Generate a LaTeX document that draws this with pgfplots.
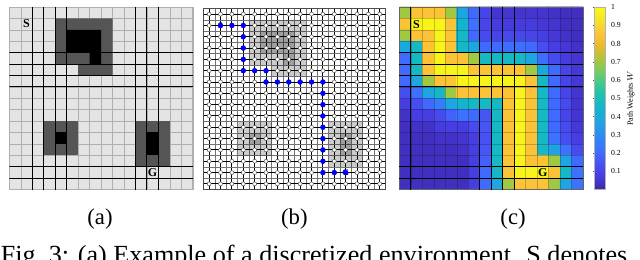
\documentclass[border=0pt]{standalone}
\usepackage{pgfplots}
\usepackage{pgfplotstable}
\pgfplotsset{compat=1.18}
\usepackage{fontspec}
\setmainfont{Liberation Serif}

\definecolor{bgA}{RGB}{228,228,228}
\definecolor{obsA}{RGB}{85,85,85}
\definecolor{gridA}{RGB}{175,175,175}
\definecolor{pathblue}{RGB}{0,0,250}
\definecolor{navy}{RGB}{10,10,90}

% path weights W (column c, row r from top, value v)
\pgfplotstableread[row sep=\\]{c r v\\
0 0 0.70\\ 1 0 0.85\\ 2 0 0.85\\ 3 0 0.85\\ 4 0 0.70\\ 5 0 0.38\\ 6 0 0.20\\ 7 0 0.10\\ 8 0 0.05\\ 9 0 0.05\\ 10 0 0.05\\ 11 0 0.05\\ 12 0 0.05\\ 13 0 0.04\\ 14 0 0.03\\ 15 0 0.03\\
0 1 0.85\\ 1 1 0.98\\ 2 1 0.98\\ 3 1 0.98\\ 4 1 0.85\\ 5 1 0.45\\ 6 1 0.22\\ 7 1 0.10\\ 8 1 0.07\\ 9 1 0.07\\ 10 1 0.07\\ 11 1 0.07\\ 12 1 0.06\\ 13 1 0.05\\ 14 1 0.03\\ 15 1 0.03\\
0 2 0.70\\ 1 2 0.85\\ 2 2 0.85\\ 3 2 0.98\\ 4 2 0.85\\ 5 2 0.47\\ 6 2 0.20\\ 7 2 0.12\\ 8 2 0.10\\ 9 2 0.11\\ 10 2 0.11\\ 11 2 0.10\\ 12 2 0.08\\ 13 2 0.06\\ 14 2 0.04\\ 15 2 0.03\\
0 3 0.40\\ 1 3 0.47\\ 2 3 0.85\\ 3 3 0.98\\ 4 3 0.85\\ 5 3 0.47\\ 6 3 0.38\\ 7 3 0.20\\ 8 3 0.20\\ 9 3 0.21\\ 10 3 0.21\\ 11 3 0.20\\ 12 3 0.13\\ 13 3 0.08\\ 14 3 0.06\\ 15 3 0.04\\
0 4 0.20\\ 1 4 0.47\\ 2 4 0.85\\ 3 4 0.98\\ 4 4 0.85\\ 5 4 0.85\\ 6 4 0.70\\ 7 4 0.47\\ 8 4 0.47\\ 9 4 0.47\\ 10 4 0.47\\ 11 4 0.38\\ 12 4 0.21\\ 13 4 0.12\\ 14 4 0.07\\ 15 4 0.05\\
0 5 0.20\\ 1 5 0.47\\ 2 5 0.85\\ 3 5 0.98\\ 4 5 0.98\\ 5 5 0.98\\ 6 5 0.85\\ 7 5 0.85\\ 8 5 0.85\\ 9 5 0.85\\ 10 5 0.85\\ 11 5 0.70\\ 12 5 0.40\\ 13 5 0.20\\ 14 5 0.10\\ 15 5 0.06\\
0 6 0.20\\ 1 6 0.38\\ 2 6 0.70\\ 3 6 0.85\\ 4 6 0.85\\ 5 6 0.98\\ 6 6 0.98\\ 7 6 0.98\\ 8 6 0.98\\ 9 6 0.98\\ 10 6 0.98\\ 11 6 0.85\\ 12 6 0.47\\ 13 6 0.20\\ 14 6 0.10\\ 15 6 0.06\\
0 7 0.13\\ 1 7 0.22\\ 2 7 0.38\\ 3 7 0.47\\ 4 7 0.70\\ 5 7 0.85\\ 6 7 0.85\\ 7 7 0.85\\ 8 7 0.85\\ 9 7 0.85\\ 10 7 0.98\\ 11 7 0.85\\ 12 7 0.47\\ 13 7 0.20\\ 14 7 0.10\\ 15 7 0.05\\
0 8 0.08\\ 1 8 0.13\\ 2 8 0.20\\ 3 8 0.26\\ 4 8 0.38\\ 5 8 0.45\\ 6 8 0.47\\ 7 8 0.47\\ 8 8 0.47\\ 9 8 0.85\\ 10 8 0.98\\ 11 8 0.85\\ 12 8 0.47\\ 13 8 0.20\\ 14 8 0.12\\ 15 8 0.05\\
0 9 0.04\\ 1 9 0.08\\ 2 9 0.08\\ 3 9 0.12\\ 4 9 0.18\\ 5 9 0.22\\ 6 9 0.20\\ 7 9 0.15\\ 8 9 0.47\\ 9 9 0.85\\ 10 9 0.98\\ 11 9 0.85\\ 12 9 0.47\\ 13 9 0.20\\ 14 9 0.10\\ 15 9 0.05\\
0 10 0.03\\ 1 10 0.04\\ 2 10 0.04\\ 3 10 0.07\\ 4 10 0.08\\ 5 10 0.08\\ 6 10 0.12\\ 7 10 0.15\\ 8 10 0.47\\ 9 10 0.85\\ 10 10 0.98\\ 11 10 0.85\\ 12 10 0.47\\ 13 10 0.20\\ 14 10 0.12\\ 15 10 0.06\\
0 11 0.03\\ 1 11 0.03\\ 2 11 0.03\\ 3 11 0.04\\ 4 11 0.04\\ 5 11 0.05\\ 6 11 0.08\\ 7 11 0.14\\ 8 11 0.47\\ 9 11 0.85\\ 10 11 0.98\\ 11 11 0.85\\ 12 11 0.47\\ 13 11 0.22\\ 14 11 0.13\\ 15 11 0.08\\
0 12 0.03\\ 1 12 0.03\\ 2 12 0.03\\ 3 12 0.03\\ 4 12 0.03\\ 5 12 0.04\\ 6 12 0.08\\ 7 12 0.15\\ 8 12 0.47\\ 9 12 0.85\\ 10 12 0.98\\ 11 12 0.85\\ 12 12 0.47\\ 13 12 0.36\\ 14 12 0.22\\ 15 12 0.12\\
0 13 0.03\\ 1 13 0.03\\ 2 13 0.03\\ 3 13 0.03\\ 4 13 0.03\\ 5 13 0.03\\ 6 13 0.08\\ 7 13 0.18\\ 8 13 0.47\\ 9 13 0.85\\ 10 13 0.98\\ 11 13 0.85\\ 12 13 0.85\\ 13 13 0.70\\ 14 13 0.38\\ 15 13 0.20\\
0 14 0.03\\ 1 14 0.03\\ 2 14 0.03\\ 3 14 0.03\\ 4 14 0.03\\ 5 14 0.03\\ 6 14 0.08\\ 7 14 0.20\\ 8 14 0.47\\ 9 14 0.85\\ 10 14 0.98\\ 11 14 0.98\\ 12 14 0.98\\ 13 14 0.85\\ 14 14 0.47\\ 15 14 0.22\\
0 15 0.03\\ 1 15 0.03\\ 2 15 0.03\\ 3 15 0.03\\ 4 15 0.03\\ 5 15 0.03\\ 6 15 0.08\\ 7 15 0.20\\ 8 15 0.38\\ 9 15 0.70\\ 10 15 0.85\\ 11 15 0.85\\ 12 15 0.85\\ 13 15 0.70\\ 14 15 0.38\\ 15 15 0.22\\
}\Cmat

\pgfplotsset{
  panel/.style={
    scale only axis, anchor=south west,
    width=137.6pt, height=136.9pt,
    xmin=0, xmax=16, ymin=0, ymax=16, y dir=reverse,
    xticklabel=\empty, yticklabel=\empty,
    major tick length=0pt, minor tick length=0pt,
  },
}
\tikzset{lbl/.style={font=\bfseries\fontsize{9}{9}\selectfont}}

\begin{document}
\begin{tikzpicture}
\path (0,0) rectangle (480pt,190.5pt);

% ---------------- (a)
\begin{axis}[panel, at={(7pt,52.5pt)},
  axis background/.style={fill=bgA},
  xtick={0,...,16}, ytick={0,...,16},
  grid=major, grid style={gridA, line width=0.45pt},
  axis line style={gridA}]
\addplot[fill=obsA, draw=none] coordinates {(4,1) (9,1) (9,6) (6,6) (6,5) (4,5)};
\addplot[fill=black, draw=none] coordinates {(5,2) (8,2) (8,5) (7,5) (7,4) (5,4)};
\addplot[fill=obsA, draw=none] coordinates {(3,10) (6,10) (6,13) (3,13)};
\addplot[fill=black, draw=none] coordinates {(4,11) (5,11) (5,12) (4,12)};
\addplot[fill=obsA, draw=none] coordinates {(11,10) (14,10) (14,14) (11,14)};
\addplot[fill=black, draw=none] coordinates {(12,11) (13,11) (13,13) (12,13)};
\addplot[black, line width=0.8pt, unbounded coords=jump] coordinates {
 (2,0)(2,16)(nan,nan)(3,0)(3,16)(nan,nan)(4,0)(4,16)(nan,nan)(5,0)(5,16)(nan,nan)
 (11,0)(11,16)(nan,nan)(12,0)(12,16)(nan,nan)(13,0)(13,16)(nan,nan)
 (0,4)(16,4)(nan,nan)(0,5)(16,5)(nan,nan)(0,6)(16,6)(nan,nan)(0,7)(16,7)(nan,nan)
 (0,14)(16,14)(nan,nan)(0,15)(16,15)};
\node[lbl] at (axis cs:1.5,1.45) {S};
\node[lbl] at (axis cs:12.5,14.5) {G};
\end{axis}

% ---------------- (b)
\begin{axis}[panel, at={(152.6pt,52.5pt)}, width=136.5pt, height=135.8pt,
  xtick={0.5,1.5,...,15.5}, ytick={0.5,1.5,...,15.5},
  minor xtick={0,1,...,16}, minor ytick={0,1,...,16},
  grid=both, major grid style={black, line width=0.75pt},
  minor grid style={black!55, line width=0.35pt},
  axis line style={black!70, line width=0.5pt}]
\addplot[fill=black, fill opacity=0.2, draw=none] coordinates {(4,1) (9,1) (9,6) (6,6) (6,5) (4,5)};
\addplot[fill=black, fill opacity=0.22, draw=none] coordinates {(5,2) (8,2) (8,5) (7,5) (7,4) (5,4)};
\addplot[fill=black, fill opacity=0.2, draw=none] coordinates {(3,10) (6,10) (6,13) (3,13)};
\addplot[fill=black, fill opacity=0.22, draw=none] coordinates {(4,11) (5,11) (5,12) (4,12)};
\addplot[fill=black, fill opacity=0.2, draw=none] coordinates {(11,10) (14,10) (14,14) (11,14)};
\addplot[fill=black, fill opacity=0.22, draw=none] coordinates {(12,11) (13,11) (13,13) (12,13)};
\addplot[only marks, mark=*, mark size=1.5pt, mark options={fill=white, draw=black!70, line width=0.35pt}]
  table[x expr=\thisrow{c}+0.5, y expr=\thisrow{r}+0.5]{\Cmat};
\addplot[only marks, mark=*, mark size=1.8pt, color=pathblue] coordinates {
 (1.5,1.5)(2.5,1.5)(3.5,1.5)(3.5,2.5)(3.5,3.5)(3.5,4.5)(3.5,5.5)(4.5,5.5)(5.5,5.5)
 (5.5,6.5)(6.5,6.5)(7.5,6.5)(8.5,6.5)(9.5,6.5)(10.5,6.5)(10.5,7.5)(10.5,8.5)(10.5,9.5)
 (10.5,10.5)(10.5,11.5)(10.5,12.5)(10.5,13.5)(10.5,14.5)(11.5,14.5)(12.5,14.5)};
\node[font=\bfseries\fontsize{6.5}{6.5}\selectfont, text=navy] at (axis cs:1.5,1.5) {S};
\node[font=\bfseries\fontsize{6.5}{6.5}\selectfont, text=navy] at (axis cs:12.5,14.5) {G};
\end{axis}

% ---------------- (c)
\begin{axis}[panel, at={(299.5pt,52.5pt)}, width=137.8pt,
  axis on top,
  colormap={parula}{rgb=(0.2422,0.1504,0.6603) rgb=(0.2751,0.2342,0.8710) rgb=(0.2810,0.3228,0.9579)
    rgb=(0.2440,0.4358,0.9988) rgb=(0.1786,0.5289,0.9682) rgb=(0.1380,0.6276,0.8973)
    rgb=(0.0689,0.6948,0.8394) rgb=(0.0964,0.7500,0.7120) rgb=(0.2161,0.7843,0.5923)
    rgb=(0.4456,0.8024,0.3909) rgb=(0.6720,0.7793,0.2227) rgb=(0.9035,0.7330,0.1774)
    rgb=(0.9970,0.7659,0.2199) rgb=(0.9610,0.8890,0.1537) rgb=(0.9769,0.9839,0.0805)},
  point meta min=0, point meta max=1,
  xtick={0,...,16}, ytick={0,...,16},
  grid=major, grid style={black, opacity=0.22, line width=0.35pt},
  extra x ticks={1,7,8,9,10}, extra y ticks={4,5,6,7,14,15},
  extra x tick labels={}, extra y tick labels={},
  extra tick style={grid style={black, opacity=1, line width=0.75pt}, major tick length=0pt},
  axis line style={black!60, line width=0.4pt},
  colorbar,
  colorbar style={
    at={([xshift=16.5pt]parent axis.north east)}, anchor=north west, width=7.8pt,
    ytick={0.1,0.2,0.3,0.4,0.5,0.6,0.7,0.8,0.9,1},
    /pgf/number format/assume math mode=true,
    yticklabel style={font=\fontsize{5.8}{6}\selectfont, xshift=0pt},
    major tick length=1.2pt, tick align=outside, tick style={black!70},
    axis line style={black!30},
    ylabel={Path Weights $W$},
    ylabel style={font=\fontsize{6}{6}\selectfont, yshift=2pt},
  }]
\addplot[matrix plot*, mesh/cols=16, point meta=explicit]
  table[x expr=\thisrow{c}+0.5, y expr=\thisrow{r}+0.5, meta=v]{\Cmat};
\node[lbl] at (axis cs:1.5,1.5) {S};
\node[lbl] at (axis cs:12.5,14.5) {G};
\end{axis}

% ---------------- captions
\node[anchor=base, font=\fontsize{17}{18}\selectfont] at (75pt,26.25pt) {(a)};
\node[anchor=base, font=\fontsize{17}{18}\selectfont] at (220.8pt,26.25pt) {(b)};
\node[anchor=base, font=\fontsize{17}{18}\selectfont] at (384.8pt,26.25pt) {(c)};
\begin{scope}
\clip (0,0) rectangle (480pt,20pt);
\node[overlay, anchor=base west, inner sep=0pt, font=\fontsize{19.6}{21}\selectfont] at (0.5pt,-3pt)
  {Fig.~3: (a) Example of a discretized environment. S denotes};
\end{scope}
\end{tikzpicture}
\end{document}
